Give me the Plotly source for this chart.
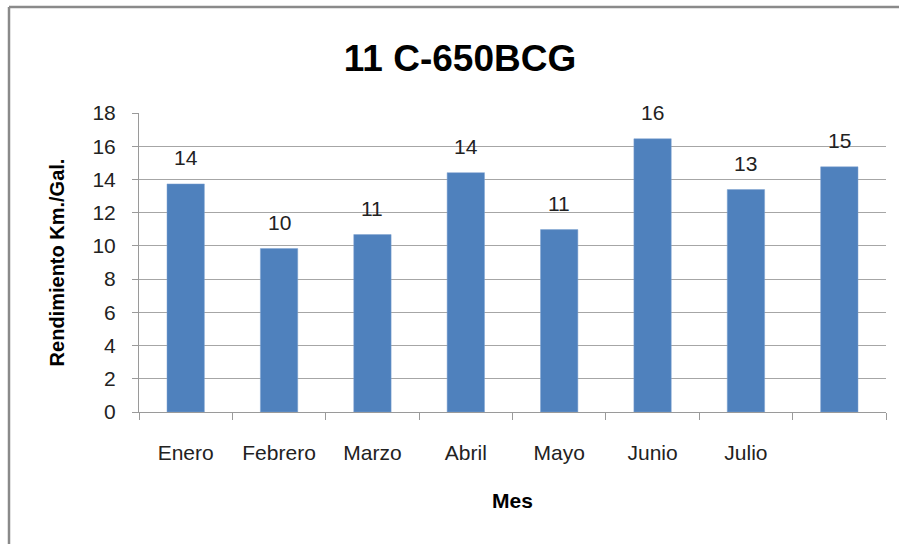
import plotly.graph_objects as go

meses = ["Enero", "Febrero", "Marzo", "Abril", "Mayo", "Junio", "Julio", " "]
rendimiento = [13.73, 9.84, 10.68, 14.41, 10.98, 16.45, 13.39, 14.76]
y_ticks = [0, 2, 4, 6, 8, 10, 12, 14, 16, 18]

FONT = "Liberation Sans Narrow, Liberation Sans, Arial Narrow, sans-serif"
BOLD = "Liberation Sans Narrow, Liberation Sans, sans-serif"

fig = go.Figure()
fig.add_trace(go.Bar(
    x=meses, y=rendimiento,
    marker=dict(color="#4F81BD", line=dict(color="#7FA3D0", width=0.5)),
    width=0.4,
    hoverinfo="x+y",
))

for m, v in zip(meses, rendimiento):
    fig.add_annotation(x=m, y=v, text=f"{v:.0f}", showarrow=False,
                       yshift=26, font=dict(family=FONT, size=21, color="#222222"))

L, R, T, B = 139, 13, 113, 132
W, H = 899, 544
pw, ph = W - L - R, H - T - B

# outer frame: top and left edges only visible in the reference
border = dict(color="#8a8a8a", width=2.5)
fig.add_shape(type="line", xref="paper", yref="paper",
              x0=(9 - L) / pw, x1=(W + 30 - L) / pw,
              y0=(H - 7 - B) / ph, y1=(H - 7 - B) / ph, line=border, layer="below")
fig.add_shape(type="line", xref="paper", yref="paper",
              x0=(9 - L) / pw, x1=(9 - L) / pw,
              y0=(H - 7 - B) / ph, y1=-(B + 30) / ph, line=border, layer="below")

fig.update_layout(
    width=W, height=H,
    margin=dict(l=L, r=R, t=T, b=B, pad=0),
    paper_bgcolor="white", plot_bgcolor="white",
    showlegend=False,
    title=dict(text="<b>11 C-650BCG</b>", x=(460 - L) / pw, xref="paper", xanchor="center",
               y=1 - 58 / H, yanchor="middle",
               font=dict(family=BOLD, size=37, color="#000000")),
    font=dict(family=FONT, color="#222222"),
)
fig.update_xaxes(
    type="category", range=[-0.5, 7.5],
    showline=True, linecolor="#9a9a9a", linewidth=1,
    ticks="outside", tickson="boundaries", ticklen=7, tickcolor="#9a9a9a",
    tickfont=dict(family=FONT, size=21, color="#222222"),
    ticklabelstandoff=22,
    title=dict(text="<b>Mes</b>", font=dict(family=BOLD, size=21, color="#000000"), standoff=30),
    showgrid=False,
)
fig.update_yaxes(
    range=[0, 18], tickvals=y_ticks,
    showline=True, linecolor="#9a9a9a", linewidth=1,
    ticks="outside", ticklen=6, tickcolor="#9a9a9a",
    tickfont=dict(family=FONT, size=21, color="#222222"),
    ticklabelstandoff=12,
    showgrid=True, gridcolor="#a6a6a6", gridwidth=1,
    zeroline=False,
    title=dict(text="<b>Rendimiento Km./Gal.</b>", font=dict(family=BOLD, size=20, color="#000000"), standoff=22),
)

fig.write_html("out.html", config={"displayModeBar": False})
